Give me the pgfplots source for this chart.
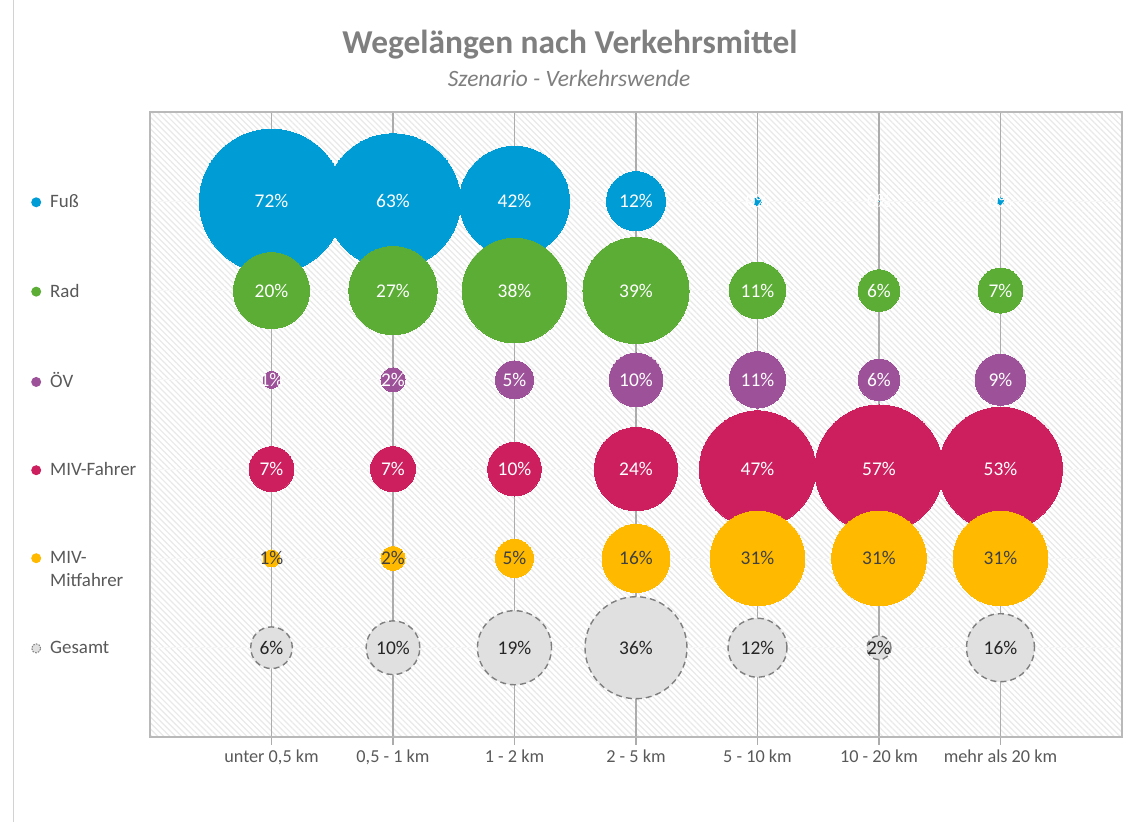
\documentclass[border=0pt]{standalone}
\usepackage{fontspec}
\setmainfont{Carlito}
\usepackage{pgfplots}
\pgfplotsset{compat=1.18}
\usepackage{pgfplotstable}
\usetikzlibrary{patterns.meta}

\definecolor{fusscol}{HTML}{009CD6}
\definecolor{radcol}{HTML}{5BAD35}
\definecolor{oevcol}{HTML}{9C5198}
\definecolor{mivcol}{HTML}{CD1F5E}
\definecolor{mitcol}{HTML}{FFBA00}
\definecolor{gescol}{HTML}{E0E0E0}
\definecolor{gesline}{HTML}{7F7F7F}
\definecolor{txtgray}{HTML}{595959}
\definecolor{titlegray}{HTML}{7F7F7F}

% x = distance class, v = share (bubble area), lbl = printed label
\pgfplotstableread{
x y v lbl
0 5 72 72
1 5 63 63
2 5 42 42
3 5 12 12
4 5 0.22 0
5 5 0 0
6 5 0.15 0
}\tabfuss
\pgfplotstableread{
x y v lbl
0 4 20 20
1 4 27 27
2 4 38 38
3 4 39 39
4 4 11 11
5 4 6 6
6 4 7 7
}\tabrad
\pgfplotstableread{
x y v lbl
0 3 1 1
1 3 2 2
2 3 5 5
3 3 10 10
4 3 11 11
5 3 6 6
6 3 9 9
}\taboev
\pgfplotstableread{
x y v lbl
0 2 7 7
1 2 7 7
2 2 10 10
3 2 24 24
4 2 47 47
5 2 57 57
6 2 53 53
}\tabmiv
\pgfplotstableread{
x y v lbl
0 1 1 1
1 1 2 2
2 1 5 5
3 1 16 16
4 1 31 31
5 1 31 31
6 1 31 31
}\tabmit
\pgfplotstableread{
x y v lbl
0 0 6 6
1 0 10 10
2 0 19 19
3 0 36 36
4 0 12 12
5 0 2 2
6 0 16 16
}\tabges

\newcommand\bul[1]{\tikz[baseline=-0.6ex]\fill[#1] (0,0) circle (5bp);\hspace{9bp}}
\newcommand\gbul{\tikz[baseline=-0.6ex]\filldraw[fill=gescol,draw=gesline,dash pattern=on 1.6bp off 1.2bp,line width=1bp] (0,0) circle (4.5bp);\hspace{9bp}}

\pgfplotsset{
  bubble/.style={
    scatter, only marks, mark=*,
    scatter src=explicit, point meta=\thisrow{v},
    scatter/use mapped color={#1},
    visualization depends on={8.53*sqrt(\thisrow{v}) \as \bubr},
    scatter/@pre marker code/.append style={/tikz/mark size=\bubr},
  },
  bublabel/.style={
    draw=none, mark=none, forget plot,
    point meta=\thisrow{lbl},
    nodes near coords={\pgfmathprintnumber[assume math mode=true]{\pgfplotspointmeta}\%},
    every node near coord/.append style={anchor=center, font=\fontsize{19.5}{20}\selectfont, inner sep=0pt, text=#1},
  },
}

\begin{document}
\begin{tikzpicture}
\path[use as bounding box, fill=white] (0,0) rectangle (1130bp,822bp);
\draw[gray!35, line width=1bp] (13bp,0) -- (13bp,822bp);
\begin{axis}[
  at={(150bp,85bp)}, anchor=south west,
  scale only axis, width=972bp, height=625bp,
  xmin=-1, xmax=7, ymin=-1, ymax=6,
  xtick={0,...,6},
  xticklabels={{unter 0,5 km},{0,5 - 1 km},{1 - 2 km},{2 - 5 km},{5 - 10 km},{10 - 20 km},{mehr als 20 km}},
  ytick={0,...,5},
  yticklabels={
    {\gbul Gesamt},
    {\bul{mitcol}\smash{\begin{tabular}[t]{@{}l@{}}MIV-\\Mitfahrer\end{tabular}}},
    {\bul{mivcol}MIV-Fahrer},
    {\bul{oevcol}ÖV},
    {\bul{radcol}Rad},
    {\bul{fusscol}Fuß}},
  xmajorgrids, ymajorgrids,
  x grid style={draw=gray!65, line width=1.3bp},
  y grid style={draw=white!94!gray, line width=1.2bp},
  tick align=outside, major tick length=8bp, xtick pos=bottom,
  xtick style={draw=gray!65, line width=1.3bp},
  ytick style={draw=none},
  axis line style={draw=gray!55, line width=1.2bp},
  axis background/.style={pattern={Lines[angle=-45,distance=4.2bp,line width=1.2bp]}, pattern color=gray!17},
  xticklabel style={text=txtgray, font=\fontsize{18.3}{20}\selectfont, yshift=-1bp},
  yticklabel style={anchor=west, inner sep=0pt, xshift=-111bp, text=txtgray, font=\fontsize{19}{23}\selectfont},
  clip=false,
]
\addplot[bubble={draw=fusscol,line width=0pt,fill=fusscol}] table[x=x,y=y] {\tabfuss};
\addplot[bublabel=white] table[x=x,y=y] {\tabfuss};
\addplot[bubble={draw=radcol,line width=0pt,fill=radcol}] table[x=x,y=y] {\tabrad};
\addplot[bublabel=white] table[x=x,y=y] {\tabrad};
\addplot[bubble={draw=oevcol,line width=0pt,fill=oevcol}] table[x=x,y=y] {\taboev};
\addplot[bublabel=white] table[x=x,y=y] {\taboev};
\addplot[bubble={draw=mivcol,line width=0pt,fill=mivcol}] table[x=x,y=y] {\tabmiv};
\addplot[bublabel=white] table[x=x,y=y] {\tabmiv};
\addplot[bubble={draw=mitcol,line width=0pt,fill=mitcol}] table[x=x,y=y] {\tabmit};
\addplot[bublabel=black!75] table[x=x,y=y] {\tabmit};
\addplot[bubble={draw=gesline,fill=gescol,dash pattern=on 6bp off 4bp,line width=1.4bp}] table[x=x,y=y] {\tabges};
\addplot[bublabel=black!85] table[x=x,y=y] {\tabges};
\end{axis}
\node[text=titlegray, font=\bfseries\fontsize{33.5}{40}\selectfont] at (570bp,777bp) {Wegelängen nach Verkehrsmittel};
\node[text=titlegray, font=\itshape\fontsize{23.5}{28}\selectfont] at (569bp,744bp) {Szenario - Verkehrswende};
\end{tikzpicture}
\end{document}
